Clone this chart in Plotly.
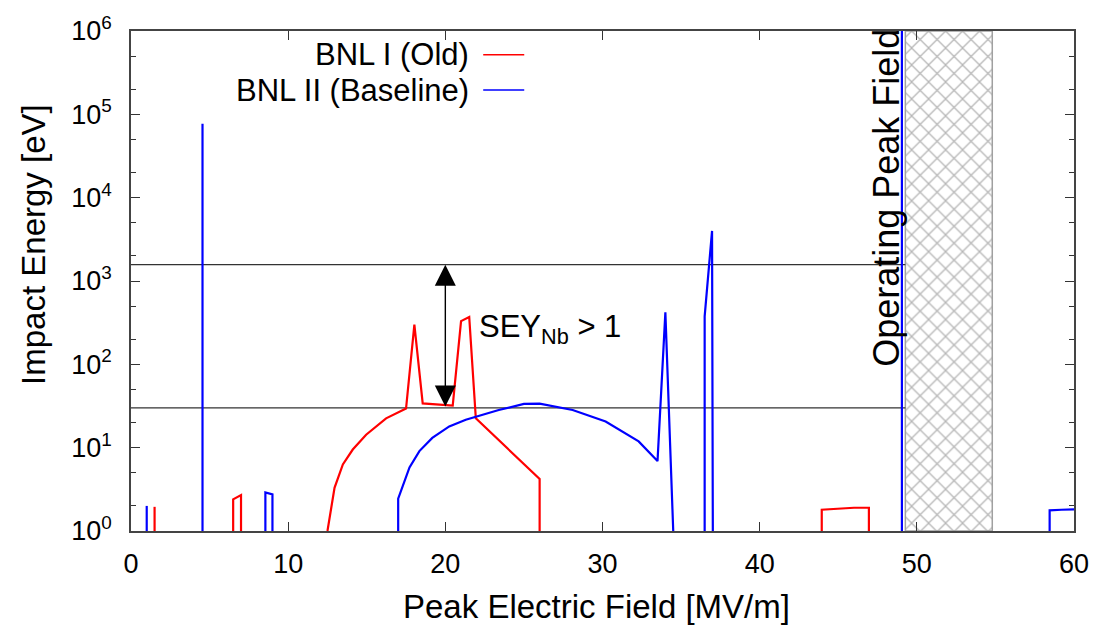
import plotly.graph_objects as go

# Peak electric field [MV/m] vs impact energy [eV]; None separates disjoint branches
bnl1_field = [1.5, 1.5, None,
              6.5, 6.5, 7.0, 7.0, None,
              12.5, 12.95, 13.48, 14.11, 14.96, 16.23, 17.5, 18.03, 18.56, 20.47,
              21.0, 21.52, 21.94, 26.0, 26.0, None,
              43.95, 43.95, 46.0, 46.95, 46.95]
bnl1_energy = [1, 1.95, None,
               1, 2.4, 2.7, 1, None,
               1, 3.3, 6.3, 9.5, 14.3, 22.5, 29.5, 300, 34, 32,
               330, 370, 22.5, 4.2, 1, None,
               1, 1.8, 1.9, 1.9, 1]

bnl2_field = [1.0, 1.0, None,
              4.55, 4.55, None,
              8.55, 8.55, 9.0, 9.0, None,
              17.0, 17.0, 17.72, 18.35, 19.17, 20.25, 21.3, 23.4, 25.0, 26.0,
              28.1, 30.2, 32.3, 33.5, 34.0, 34.5, None,
              36.5, 36.5, 36.97, 37.02, None,
              49.05, 49.05, None,
              58.45, 58.45, 59.2, 60.0]
bnl2_energy = [1, 2.0, None,
               1, 7.7e4, None,
               1, 2.9, 2.75, 1, None,
               1, 2.44, 5.8, 9.1, 13.1, 18, 21.6, 28.3, 33.5, 33.8,
               28.3, 20.6, 11.9, 6.9, 420, 1, None,
               1, 377, 3990, 1, None,
               1, 1e6, None,
               1, 1.77, 1.8, 1.82]

# Niobium secondary-emission-yield > 1 window [eV]
sey_low, sey_high = 30, 1570
sey_arrow_field = 20.0

# Operating peak field band [MV/m]
band_lo, band_hi = 49.27, 54.8

x_ticks = [0, 10, 20, 30, 40, 50, 60]
y_decades = [0, 1, 2, 3, 4, 5, 6]

FONT = "Liberation Sans, Arial, Helvetica, sans-serif"

fig = go.Figure()

# hatched operating band
fig.add_trace(go.Scatter(
    x=[band_lo, band_hi, band_hi, band_lo, band_lo],
    y=[1, 1, 1e6, 1e6, 1],
    mode="lines", fill="toself",
    line=dict(color="#a0a0a0", width=1.5),
    fillcolor="rgba(0,0,0,0)",
    fillpattern=dict(shape="x", fgcolor="#6e6e6e", bgcolor="white",
                     size=12, solidity=0.2),
    showlegend=False, hoverinfo="skip"))

# SEY window boundaries
for e in (sey_low, sey_high):
    fig.add_trace(go.Scatter(
        x=[0, band_lo], y=[e, e], mode="lines",
        line=dict(color="#333333", width=1.2),
        showlegend=False, hoverinfo="skip"))

fig.add_trace(go.Scatter(
    x=bnl1_field, y=bnl1_energy, mode="lines", name="BNL I (Old)",
    line=dict(color="#ff0000", width=2.2), connectgaps=False, showlegend=False))
fig.add_trace(go.Scatter(
    x=bnl2_field, y=bnl2_energy, mode="lines", name="BNL II (Baseline)",
    line=dict(color="#0000ff", width=2.2), connectgaps=False, showlegend=False))

minor_vals = [m * 10 ** d for d in range(6) for m in (2, 5)]

axis_common = dict(
    showline=True, linecolor="#444444", linewidth=1.5, mirror="allticks",
    ticks="inside", ticklen=9, tickwidth=1.2, tickcolor="#333333",
    showgrid=False, zeroline=False,
    tickfont=dict(family=FONT, size=27, color="black"),
)

fig.update_xaxes(range=[0, 60], tickmode="array", tickvals=x_ticks,
                 ticktext=[str(v) for v in x_ticks], ticklabelstandoff=8,
                 **axis_common)
fig.update_yaxes(type="log", range=[0, 6], tickmode="array",
                 tickvals=[10 ** d for d in y_decades],
                 ticktext=[f"10<sup>{d}</sup>" for d in y_decades],
                 ticklabelstandoff=12,
                 minor=dict(ticks="inside", ticklen=5, tickcolor="#333333",
                            tickmode="array", tickvals=minor_vals),
                 **axis_common)

annotations = [
    # double-headed arrow across the SEY window
    dict(x=sey_arrow_field, y=3.196, ax=sey_arrow_field, ay=1.477,
         xref="x", yref="y", axref="x", ayref="y",
         showarrow=True, arrowhead=2, startarrowhead=2, arrowside="end+start",
         arrowsize=3.0, startarrowsize=3.0, arrowwidth=1.4, arrowcolor="black",
         standoff=0, startstandoff=0, text=""),
    dict(x=22.0, y=2.42, xref="x", yref="y", xanchor="left", yanchor="middle",
         text="SEY<sub>Nb</sub> > 1", showarrow=False,
         font=dict(family=FONT, size=31, color="black")),
    dict(x=48.05, y=4.0, xref="x", yref="y", xanchor="center", yanchor="middle",
         text="Operating Peak Field", textangle=-90, showarrow=False,
         font=dict(family=FONT, size=36, color="black")),
    # axis titles
    dict(x=0.494, y=-0.15, xref="paper", yref="paper", xanchor="center",
         yanchor="middle", text="Peak Electric Field [MV/m]", showarrow=False,
         font=dict(family=FONT, size=33, color="black")),
    dict(x=-0.104, y=0.574, xref="paper", yref="paper", xanchor="center",
         yanchor="middle", text="Impact Energy [eV]", textangle=-90,
         showarrow=False, font=dict(family=FONT, size=33, color="black")),
    # legend entries (text to the left of the sample line)
    dict(x=0.3608, y=0.9527, xref="paper", yref="paper", xanchor="right",
         yanchor="middle", text="BNL I (Old)", showarrow=False,
         font=dict(family=FONT, size=31, color="black")),
    dict(x=0.3608, y=0.882, xref="paper", yref="paper", xanchor="right",
         yanchor="middle", text="BNL II (Baseline)", showarrow=False,
         font=dict(family=FONT, size=31, color="black")),
]

shapes = [
    dict(type="line", xref="paper", yref="paper", x0=0.3735, x1=0.417,
         y0=0.9527, y1=0.9527, line=dict(color="#ff0000", width=1.5)),
    dict(type="line", xref="paper", yref="paper", x0=0.3735, x1=0.417,
         y0=0.882, y1=0.882, line=dict(color="#0000ff", width=1.5)),
]

fig.update_layout(
    width=1101, height=630,
    margin=dict(l=131, r=25, t=24, b=99),
    paper_bgcolor="white", plot_bgcolor="white",
    font=dict(family=FONT, color="black"),
    annotations=annotations, shapes=shapes,
    showlegend=False,
)

fig.write_html("out.html")
